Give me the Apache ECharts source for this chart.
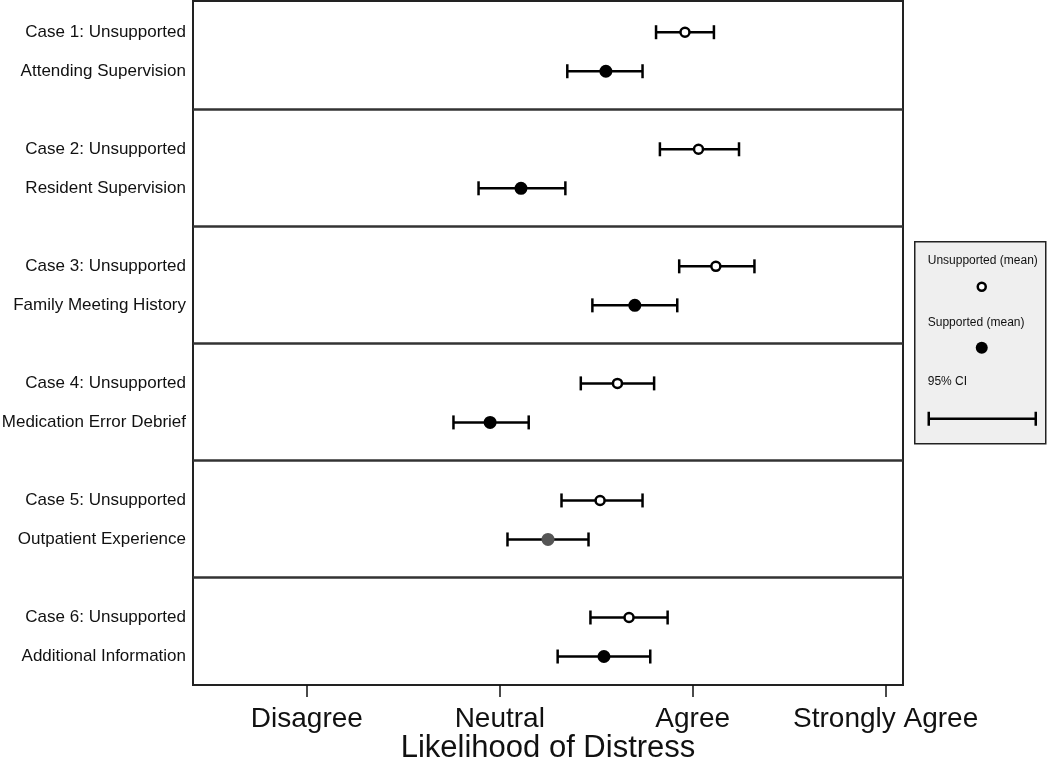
<!DOCTYPE html>
<html>
<head>
<meta charset="utf-8">
<script src="https://cdn.jsdelivr.net/npm/echarts@6/dist/echarts.min.js"></script>
<style>html,body{margin:0;padding:0;background:#fff}#c{width:1050px;height:760px}</style>
</head>
<body>
<div id="c"></div>
<script>
// ---- data ----
const unsupportedLabels = ['Case 1: Unsupported','Case 2: Unsupported','Case 3: Unsupported','Case 4: Unsupported','Case 5: Unsupported','Case 6: Unsupported'];
const supportedLabels = ['Attending Supervision','Resident Supervision','Family Meeting History','Medication Error Debrief','Outpatient Experience','Additional Information'];
const unsupMean = [3.96, 4.03, 4.12, 3.61, 3.52, 3.67];
const unsupLow  = [3.81, 3.83, 3.93, 3.42, 3.32, 3.47];
const unsupHigh = [4.11, 4.24, 4.32, 3.80, 3.74, 3.87];
const supMean = [3.55, 3.11, 3.70, 2.95, 3.25, 3.54];
const supLow  = [3.35, 2.89, 3.48, 2.76, 3.04, 3.30];
const supHigh = [3.74, 3.34, 3.92, 3.15, 3.46, 3.78];
const xTickValues = [2, 3, 4, 5];
const xTickLabels = ['Disagree', 'Neutral', 'Agree', 'Strongly Agree'];
const xTitle = 'Likelihood of Distress';
const legendTexts = ['Unsupported (mean)', 'Supported (mean)', '95% CI'];

// ---- layout / style ----
const FONT = 'Liberation Sans, Arial, Helvetica, sans-serif';
const greyCaseIndex = 4; // supported point drawn in grey
const rowStep = 3;       // each case uses 3 row units: unsupported, supported, divider

const labelRows = [];
const labelText = {};
unsupportedLabels.forEach((l, i) => { labelRows.push(i*rowStep); labelText[i*rowStep] = l; });
supportedLabels.forEach((l, i) => { labelRows.push(i*rowStep+1); labelText[i*rowStep+1] = l; });
labelRows.sort((a,b)=>a-b);

const dividerRows = [];
for (let i = 0; i < unsupportedLabels.length - 1; i++) dividerRows.push(i*rowStep + 1.97);

const errData = [];
unsupMean.forEach((m, i) => errData.push([unsupLow[i], unsupHigh[i], i*rowStep]));
supMean.forEach((m, i) => errData.push([supLow[i], supHigh[i], i*rowStep+1]));

const unsupPts = unsupMean.map((m, i) => [m, i*rowStep]);
const supPts = supMean.map((m, i) => ({
  value: [m, i*rowStep+1],
  itemStyle: { color: i === greyCaseIndex ? '#555555' : '#000000' }
}));

const chart = echarts.init(document.getElementById('c'), null, {renderer: 'canvas'});
const option = {
  animation: false,
  backgroundColor: '#ffffff',
  grid: {
    left: 193, right: 147, top: 1, bottom: 75,
    outerBoundsMode: 'none', containLabel: false,
    show: true, borderColor: '#222', borderWidth: 2, backgroundColor: 'transparent'
  },
  xAxis: {
    type: 'value', min: 1.41, max: 5.09,
    axisLine: { show: false, onZero: false },
    splitLine: { show: false },
    axisTick: { show: true, customValues: xTickValues, length: 12, inside: false, lineStyle: { color: '#111', width: 1.5 } },
    axisLabel: {
      customValues: xTickValues, margin: 20, fontSize: 28, color: '#111', fontFamily: FONT,
      formatter: v => { const k = xTickValues.indexOf(v); return k >= 0 ? xTickLabels[k] : ''; }
    },
    name: xTitle, nameLocation: 'middle', nameGap: 48, nameMoveOverlap: false,
    nameTextStyle: { fontSize: 31, color: '#111', fontFamily: FONT }
  },
  yAxis: {
    type: 'value', inverse: true, min: -0.8, max: 16.73,
    axisLine: { show: false, onZero: false }, splitLine: { show: false },
    axisTick: { show: false },
    axisLabel: {
      customValues: labelRows, margin: 7, fontSize: 17, color: '#111', fontFamily: FONT,
      formatter: v => labelText[v] !== undefined ? labelText[v] : ''
    }
  },
  series: [
    {
      type: 'custom',
      name: 'CI',
      data: errData,
      encode: { x: [0, 1], y: 2 },
      z: 2,
      renderItem: function (params, api) {
        const lo = api.coord([api.value(0), api.value(2)]);
        const hi = api.coord([api.value(1), api.value(2)]);
        const h = 7;
        const st = { stroke: '#000', lineWidth: 2.5 };
        return {
          type: 'group',
          children: [
            { type: 'line', shape: { x1: lo[0], y1: lo[1], x2: hi[0], y2: hi[1] }, style: st },
            { type: 'line', shape: { x1: lo[0], y1: lo[1]-h, x2: lo[0], y2: lo[1]+h }, style: st },
            { type: 'line', shape: { x1: hi[0], y1: hi[1]-h, x2: hi[0], y2: hi[1]+h }, style: st }
          ]
        };
      },
      markLine: {
        silent: true, symbol: ['none', 'none'], label: { show: false },
        lineStyle: { color: '#333', width: 2.5, type: 'solid' },
        data: dividerRows.map(r => ({ yAxis: r }))
      }
    },
    {
      type: 'scatter', name: 'Unsupported', data: unsupPts, z: 5,
      symbol: 'circle', symbolSize: 9,
      itemStyle: { color: '#fff', borderColor: '#000', borderWidth: 2.5, opacity: 1 }
    },
    {
      type: 'scatter', name: 'Supported', data: supPts, z: 5,
      symbol: 'circle', symbolSize: 13,
      itemStyle: { color: '#000', opacity: 1 }
    }
  ],
  graphic: [
    {
      type: 'group', left: 914, top: 241,
      children: [
        { type: 'rect', shape: { x: 0, y: 0, width: 131, height: 202 }, style: { fill: '#efefef', stroke: '#222', lineWidth: 1.5 } },
        { type: 'text', x: 13, y: 19, style: { text: legendTexts[0], font: '12px ' + FONT, fill: '#111', verticalAlign: 'middle' } },
        { type: 'circle', shape: { cx: 67, cy: 45, r: 4 }, style: { fill: '#fff', stroke: '#000', lineWidth: 2.5 } },
        { type: 'text', x: 13, y: 81, style: { text: legendTexts[1], font: '12px ' + FONT, fill: '#111', verticalAlign: 'middle' } },
        { type: 'circle', shape: { cx: 67, cy: 106, r: 6 }, style: { fill: '#000' } },
        { type: 'text', x: 13, y: 140, style: { text: legendTexts[2], font: '12px ' + FONT, fill: '#111', verticalAlign: 'middle' } },
        { type: 'line', shape: { x1: 14, y1: 177, x2: 121, y2: 177 }, style: { stroke: '#000', lineWidth: 2.5 } },
        { type: 'line', shape: { x1: 14, y1: 170, x2: 14, y2: 184 }, style: { stroke: '#000', lineWidth: 2.5 } },
        { type: 'line', shape: { x1: 121, y1: 170, x2: 121, y2: 184 }, style: { stroke: '#000', lineWidth: 2.5 } }
      ]
    }
  ]
};
chart.setOption(option);
</script>
</body>
</html>
